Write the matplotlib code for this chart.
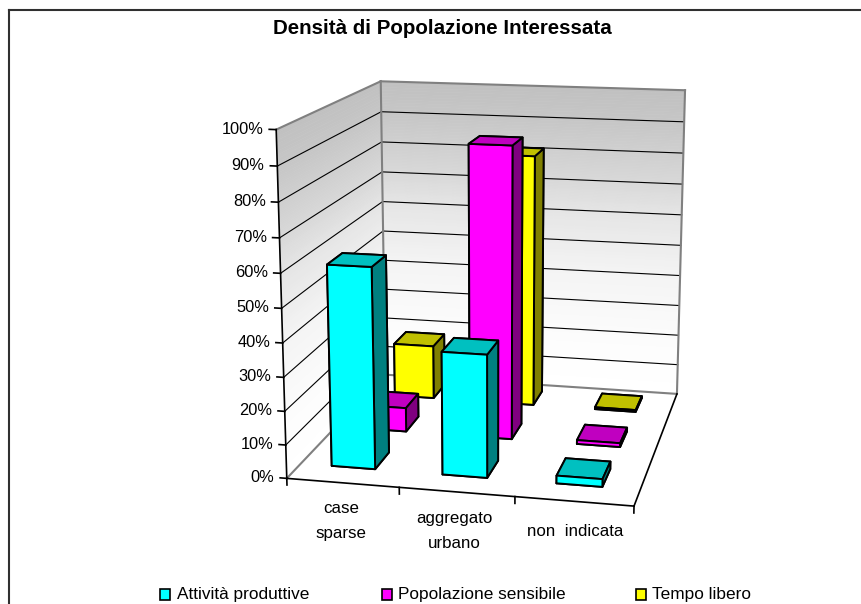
import numpy as np
import matplotlib
matplotlib.use('Agg')
import matplotlib.pyplot as plt
from matplotlib.lines import Line2D
from matplotlib.patches import Rectangle
from mpl_toolkits.mplot3d import proj3d
from mpl_toolkits.mplot3d.art3d import Poly3DCollection

plt.rcParams['font.family'] = ['Liberation Sans', 'DejaVu Sans']

# ---- data ----
title = 'Densità di Popolazione Interessata'
categories = ['case\nsparse', 'aggregato\nurbano', 'non  indicata']
series_names = ['Attività produttive', 'Popolazione sensibile', 'Tempo libero']
attivita = [60, 36.5, 2.3]
popolazione = [7.5, 90, 1.2]
tempo = [17.5, 81, 0.6]
z_ticks = [0, 10, 20, 30, 40, 50, 60, 70, 80, 90, 100]
z_labels = ['0%', '10%', '20%', '30%', '40%', '50%', '60%', '70%', '80%', '90%', '100%']

# ---- styles: front, top, side ----
face_colors = [('#00FFFF', '#00C0C0', '#008080'),
               ('#FF00FF', '#C000C0', '#800080'),
               ('#FFFF00', '#C0C000', '#808000')]
series_values = [attivita, popolazione, tempo]
BAR_W, BAR_D, BAR_Y0, BAR_DX = 0.395, 0.43, 0.37, -0.02
W, H = 861, 604

fig = plt.figure(figsize=(W / 100, H / 100), dpi=100)
S = 564.5
ax = fig.add_axes([206.07 / W, (H - 564.4) / H, S / W, S / H], projection='3d')
ax.patch.set_alpha(0)
ax.set_axis_off()
ax.computed_zorder = False
ax.set_autoscale_on(False)
ax.view_init(elev=13.859, azim=-77.661, roll=-0.0205)
ax.set_proj_type('persp', focal_length=0.567)
ax.set_box_aspect((0.9896, 1.01675, 0.99649))

nx, ny = len(categories), len(series_names)
top = z_ticks[-1]
ax.set_xlim(0, nx, view_margin=0)
ax.set_ylim(0, ny, view_margin=0)
ax.set_zlim(0, top, view_margin=0)
ax.set_xticks([])
ax.set_yticks([])
ax.set_zticks([])

def label3d(x, y, z, s, **kw):
    # text anchored at a 3D data position, projected through the axes' own camera
    px, py, _ = proj3d.proj_transform(x, y, z, ax.get_proj())
    ax.text2D(float(px), float(py), s, transform=ax.transData, color='#000000', **kw)

# walls with the vertical grey gradient
levels = np.linspace(0, top, 101)
strips, cols = [], []
for lo, hi in zip(levels[:-1], levels[1:]):
    grey = np.interp(0.5 * (lo + hi), [0, 15, 40, 60, 70, 90, 100],
                     [255, 253, 244, 229, 216, 198, 192]) / 255
    strips.append([(0, 0, lo), (0, ny, lo), (0, ny, hi), (0, 0, hi)])
    cols.append((grey, grey, grey))
    strips.append([(0, ny, lo), (nx, ny, lo), (nx, ny, hi), (0, ny, hi)])
    cols.append((grey, grey, grey))
walls = Poly3DCollection(strips, facecolors=cols, edgecolors=cols, linewidths=0.4, zorder=1)
ax.add_collection3d(walls)

def seg(a, b, color, lw, z=3):
    ax.plot([a[0], b[0]], [a[1], b[1]], [a[2], b[2]], color=color, lw=lw, zorder=z,
            solid_capstyle='projecting')

# grid lines
for v in z_ticks[1:-1]:
    seg((0, 0, v), (0, ny, v), '#000000', 0.8)
    seg((0, ny, v), (nx, ny, v), '#000000', 0.8)

# wall and floor outlines
GREY = '#808080'
seg((0, 0, top), (0, ny, top), GREY, 1.5)
seg((0, ny, top), (nx, ny, top), GREY, 1.5)
seg((0, ny, 0), (0, ny, top), GREY, 1.5)
seg((nx, ny, 0), (nx, ny, top), GREY, 1.5)
seg((0, 0, 0), (0, ny, 0), GREY, 1.5)
seg((0, ny, 0), (nx, ny, 0), GREY, 1.5)
seg((0, 0, 0), (0, 0, top), '#000000', 1.2, 4)
seg((0, 0, 0), (nx, 0, 0), '#000000', 1.2, 4)
seg((nx, 0, 0), (nx, ny, 0), '#000000', 1.2, 4)

# ticks and tick labels
for v, lab in zip(z_ticks, z_labels):
    seg((-0.06, 0, v), (0, 0, v), '#000000', 1.2, 4)
    label3d(-0.11, 0, v, lab, ha='right', va='center', fontsize=11.8)
for i in range(nx + 1):
    seg((i, 0, -2), (i, 0, 0), '#000000', 1.2, 4)
for i, (lab, dx, zpos) in enumerate(zip(categories, (-0.02, -0.02, 0.01), (-5.4, -5.6, -6.5))):
    label3d(i + 0.5 + dx, 0, zpos, lab, ha='center', va='top', fontsize=12.2, linespacing=1.85)

# bars, painted from the back row to the front row
for s in reversed(range(ny)):
    front, upper, side = face_colors[s]
    for c in range(nx):
        # face order of bar3d: -z, +z, -y, +y, -x, +x
        ax.bar3d([c + 0.5 + BAR_DX - BAR_W / 2], [s + BAR_Y0], [0],
                 [BAR_W], [BAR_D], [series_values[s][c]],
                 color=[front, upper, front, front, side, side],
                 shade=False, edgecolor='#000000', linewidth=1.4,
                 zorder=10 + (ny - s) * 10 + c)

ax.set_xlim(0, nx, view_margin=0)
ax.set_ylim(0, ny, view_margin=0)
ax.set_zlim(0, top, view_margin=0)

# chart frame (its right and bottom sides lie beyond the picture)
fig.add_artist(Line2D([9 / W, 9 / W], [0, 1 - 10 / H], color='#303030', lw=1.5))
fig.add_artist(Line2D([9 / W, 1], [1 - 10 / H, 1 - 10 / H], color='#303030', lw=1.5))

fig.text(442 / W, 1 - 29 / H, title, ha='center', va='center', fontsize=14.8, fontweight='bold',
         color='#000000')

# legend
for name, cols3, bx, tx in zip(series_names, face_colors, (160, 382, 636), (177, 398, 652)):
    fig.add_artist(Rectangle((bx / W, 1 - 600 / H), 10 / W, 11 / H, transform=fig.transFigure,
                             facecolor=cols3[0], edgecolor='#000000', lw=1.2))
    fig.text(tx / W, 1 - 594.5 / H, name, ha='left', va='center', fontsize=12.4, color='#000000')

fig.savefig('out.png', dpi=100)
